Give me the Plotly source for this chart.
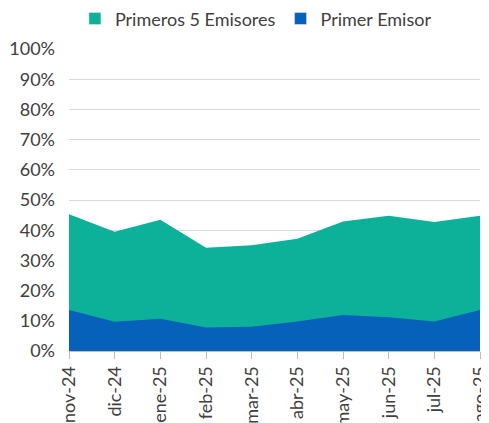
import plotly.graph_objects as go

meses = ['nov-24', 'dic-24', 'ene-25', 'feb-25', 'mar-25', 'abr-25', 'may-25', 'jun-25', 'jul-25', 'ago-25']
primeros_5 = [0.453, 0.395, 0.435, 0.342, 0.350, 0.372, 0.429, 0.448, 0.427, 0.448]
primer_emisor = [0.136, 0.097, 0.107, 0.078, 0.080, 0.098, 0.119, 0.112, 0.098, 0.136]
y_ticks = [i / 10 for i in range(11)]

TEAL = '#0DB19A'
BLUE = '#0561B9'
GRAY = '#404040'
FAMILY = 'Lato, Open Sans, sans-serif'

fig = go.Figure()
fig.add_trace(go.Scatter(x=meses, y=primeros_5, name='Primeros 5 Emisores', mode='lines',
                         line=dict(width=0, color=TEAL), fill='tozeroy', fillcolor=TEAL,
                         showlegend=False))
fig.add_trace(go.Scatter(x=meses, y=primer_emisor, name='Primer Emisor', mode='lines',
                         line=dict(width=0, color=BLUE), fill='tozeroy', fillcolor=BLUE,
                         showlegend=False))
# legend entries drawn as squares
fig.add_trace(go.Bar(x=[None], y=[None], name='Primeros 5 Emisores', marker_color=TEAL))
fig.add_trace(go.Bar(x=[None], y=[None], name='Primer Emisor', marker_color=BLUE))

# page body has an 8px margin, so margins are shifted to compensate
fig.update_layout(
    width=489, height=423,
    margin=dict(l=61, r=17, t=41, b=80, autoexpand=False),
    paper_bgcolor='white', plot_bgcolor='white',
    font=dict(family=FAMILY, size=18, color=GRAY),
    showlegend=True,
    legend=dict(orientation='h', x=0.0144, xanchor='left', y=1.1, yanchor='middle',
                font=dict(family=FAMILY, size=18, color=GRAY), traceorder='normal',
                itemwidth=30),
    xaxis=dict(type='category', range=[0, 9], tickangle=-90, showgrid=False,
               showline=True, linecolor='#bfbfbf', linewidth=1,
               ticks='outside', tickcolor='#bfbfbf', ticklen=7,
               tickfont=dict(family=FAMILY, size=18, color=GRAY)),
    yaxis=dict(range=[0, 1.0], tickvals=y_ticks, tickformat='.0%', showgrid=True,
               gridcolor='#d9d9d9', gridwidth=1, zeroline=False, showline=False,
               ticks='', ticklabelstandoff=13,
               tickfont=dict(family=FAMILY, size=18, color=GRAY)),
)

fig.write_html("out.html")
